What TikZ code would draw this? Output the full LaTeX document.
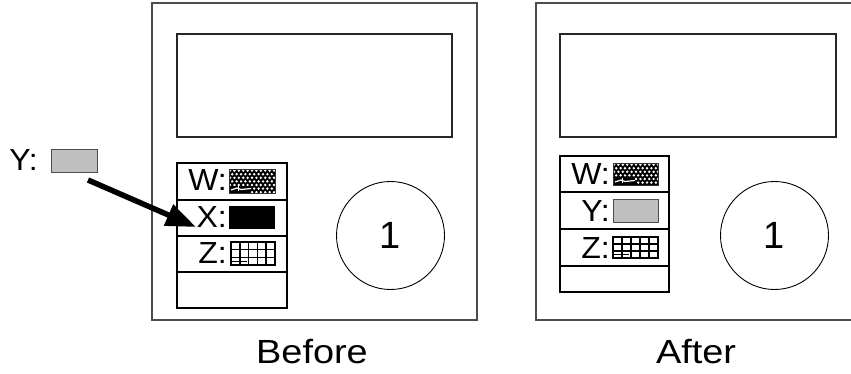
\documentclass[tikz,border=0pt]{standalone}
\usepackage{fontspec}
\setmainfont{Liberation Sans}
\newfontfamily\legendfont[FakeStretch=1.05]{Liberation Sans}
\newfontfamily\captionfont[FakeStretch=1.13]{Liberation Sans}
\usetikzlibrary{arrows.meta}
\newcommand\wswatch[4]{%
  \begin{scope}
    \clip (#1,#2) rectangle (#3,#4);
    \fill[black] (#1,#2) rectangle (#3,#4);
    \foreach \i in {0,...,11}{\foreach \j in {0,...,6}{%
      \fill[white] ({#1+\i*4.4+mod(\j,2)*2.2+1},{#2+\j*3.6+1.6}) circle (1.35);}}
    \fill[black] (#1,{#4-7}) rectangle ({#1+22},#4);
    \draw[white,line width=1.2pt] ({#1+2},{#4-3}) -- ({#1+8},{#4-5}) -- ({#1+12},{#4-3.5}) -- ({#1+22},{#4-4.5});
    \draw[white,line width=1pt] ({#1+9},{#4-6.5}) -- ({#1+9},{#4-2});
  \end{scope}
  \draw[black!80,line width=0.6pt] (#1,#2) rectangle (#3,#4);}
\newcommand\zswatch[4]{%
  \fill[white] (#1,#2) rectangle (#3,#4);
  \foreach \k in {1,...,4}{\draw[black,line width=1.6pt] ({#1+(#3-#1)*\k/5},#2) -- ({#1+(#3-#1)*\k/5},#4);}
  \foreach \k in {1,2}{\draw[black,line width=1.6pt] (#1,{#2+(#4-#2)*\k/3}) -- (#3,{#2+(#4-#2)*\k/3});}
  \draw[black,line width=1.6pt] (#1,#2) rectangle (#3,#4);
  \draw[black,line width=1pt] ({#1+1},{#4-4}) -- ({#1+16},{#4-4});}
\begin{document}
\begin{tikzpicture}[x=1pt,y=-1pt,
  frame/.style={draw=black!70,line width=1.3pt,inner sep=0pt,outer sep=0pt},
  screen/.style={draw=black!85,line width=1.1pt,inner sep=0pt,outer sep=0pt},
  row/.style={draw=black,line width=1.1pt,inner sep=0pt,outer sep=0pt},
  lbl/.style={font=\legendfont\fontsize{30.5}{33}\selectfont,inner sep=0pt,anchor=base east},
  captext/.style={font=\captionfont\fontsize{33.5}{36}\selectfont,inner sep=0pt,anchor=base},
  dial/.style={circle,draw=black,line width=0.9pt,minimum size=108pt,inner sep=0pt,font=\fontsize{38}{40}\selectfont},
  gswatch/.style={fill=black!25,draw=black!70,line width=0.8pt}]
\clip (0,0) rectangle (851,374);
\useasboundingbox (0,0) rectangle (851,374);
% ---------- Before ----------
\node[frame,minimum width=325pt,minimum height=317pt] (bframe) at (314.5,161.5) {};
\node[screen,minimum width=275pt,minimum height=103pt] (bscreen) at (314.5,85.5) {};
\node[row,minimum width=110pt,minimum height=37pt] (brow1) at (232,181.5) {};
\node[row,minimum width=110pt,minimum height=36pt] (brow2) at (232,218) {};
\node[row,minimum width=110pt,minimum height=36pt,line width=1.6pt] (brow3) at (232,254) {};
\node[row,minimum width=110pt,minimum height=36pt] (brow4) at (232,290) {};
\node[lbl] (bw) at (227,191) {W:};
\node[lbl] (bx) at (227,227) {X:};
\node[lbl] (bz) at (227,263) {Z:};
\wswatch{229}{169}{275}{193}
\fill[black] (229,206) rectangle (275,229);
\zswatch{231}{242}{275}{265}
\node[dial] (bdial) at (390.5,235.5) {1};
\node[captext] (blabel) at (312,363) {Before};
% the new entry Y
\node[lbl] (ylab) at (38,171) {Y:};
\node[gswatch,minimum width=46pt,minimum height=23pt,inner sep=0pt] (yswatch) at (74,160.5) {};
\coordinate (ytail) at (88,180);
\coordinate (xtip) at (196,227);
\draw[line width=5.5pt,-{Triangle[length=30pt,width=22pt]}] (ytail) -- (xtip);
% ---------- After ----------
\node[frame,minimum width=344pt,minimum height=317pt] (aframe) at (708,161.5) {};
\node[screen,minimum width=276pt,minimum height=103pt] (ascreen) at (698,85.5) {};
\node[row,minimum width=109pt,minimum height=36pt] (arow1) at (614.5,174) {};
\node[row,minimum width=109pt,minimum height=37pt] (arow2) at (614.5,210.5) {};
\node[row,minimum width=109pt,minimum height=37pt] (arow3) at (614.5,247.5) {};
\node[row,minimum width=109pt,minimum height=26pt] (arow4) at (614.5,279) {};
\node[lbl] (aw) at (610,185) {W:};
\node[lbl] (ay) at (610,222) {Y:};
\node[lbl] (az) at (610,258) {Z:};
\wswatch{613}{163}{658}{185}
\draw[gswatch] (613,199) rectangle (658,222);
\zswatch{613}{237}{658}{258}
\node[dial] (adial) at (774.5,235.5) {1};
\node[captext] (alabel) at (696,363) {After};
\end{tikzpicture}
\end{document}
